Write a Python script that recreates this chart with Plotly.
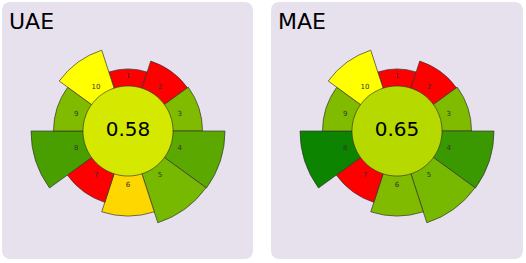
import numpy as np
import plotly.graph_objects as go

# ---- data ----
segments = ["1", "2", "3", "4", "5", "6", "7", "8", "9", "10"]
seg_angles = [0, 36, 72, 108, 144, 180, 216, 252, 288, 324]
seg_radius = [62, 73.5, 74.5, 97, 96.5, 85, 75, 97, 74.5, 85]
inner_radius = 45
label_radius = 54.5

panels = ["UAE", "MAE"]
scores = ["0.58", "0.65"]
uae_colors = ["#ff0000", "#ff0000", "#80bb00", "#5aa800", "#77b800",
              "#ffd700", "#ff0000", "#4a9f00", "#80bb00", "#ffff00"]
mae_colors = ["#ff0000", "#ff0000", "#80bb00", "#3a9900", "#77b800",
              "#80bb00", "#ff0000", "#0c8400", "#80bb00", "#ffff00"]
center_colors = ["#d4e800", "#b6d900"]

W, H = 526, 263
fig = go.Figure()

seg_colors = [uae_colors, mae_colors]
polar_names = ["polar", "polar2"]
centers_px = [(128, 131), (397, 131)]
R_px = 100

circle_theta = np.linspace(0, 360, 241)

for i, pname in enumerate(polar_names):
    fig.add_trace(go.Barpolar(
        r=seg_radius, theta=seg_angles, width=[36] * len(seg_angles),
        marker=dict(color=seg_colors[i], line=dict(color="rgba(50,50,50,0.85)", width=0.8)),
        subplot=pname, hoverinfo="skip", showlegend=False))
    fig.add_trace(go.Scatterpolar(
        r=[inner_radius] * len(circle_theta), theta=circle_theta,
        mode="lines", fill="toself", fillcolor=center_colors[i],
        line=dict(color="rgba(50,50,50,0.85)", width=0.8),
        subplot=pname, hoverinfo="skip", showlegend=False))
    fig.add_trace(go.Scatterpolar(
        r=[label_radius] * len(seg_angles), theta=seg_angles, text=segments,
        mode="text", textfont=dict(family="DejaVu Sans", size=7, color="#333333"),
        subplot=pname, hoverinfo="skip", showlegend=False))
    fig.add_trace(go.Scatterpolar(
        r=[0], theta=[0], text=[scores[i]], mode="text",
        textfont=dict(family="DejaVu Sans", size=20, color="#000000"),
        subplot=pname, hoverinfo="skip", showlegend=False))

polar_common = dict(
    bgcolor="rgba(0,0,0,0)",
    radialaxis=dict(visible=False, range=[0, R_px], showgrid=False),
    angularaxis=dict(visible=False, rotation=90, direction="clockwise", showgrid=False),
    hole=0,
)
layout_polars = {}
for pname, (cx, cy) in zip(polar_names, centers_px):
    d = dict(polar_common)
    d["domain"] = dict(x=[(cx - R_px) / W, (cx + R_px) / W],
                       y=[1 - (cy + R_px) / H, 1 - (cy - R_px) / H])
    layout_polars[pname] = d


def rounded_rect(x0, y0, x1, y1, r):
    # pixel coords (y down) -> paper path
    def P(x, y):
        return f"{x / W:.5f},{1 - y / H:.5f}"
    return (f"M {P(x0 + r, y0)} L {P(x1 - r, y0)} Q {P(x1, y0)} {P(x1, y0 + r)} "
            f"L {P(x1, y1 - r)} Q {P(x1, y1)} {P(x1 - r, y1)} "
            f"L {P(x0 + r, y1)} Q {P(x0, y1)} {P(x0, y1 - r)} "
            f"L {P(x0, y0 + r)} Q {P(x0, y0)} {P(x0 + r, y0)} Z")


panel_boxes = [(2, 2, 253, 259), (271, 2, 523, 259)]
shapes = [dict(type="path", xref="paper", yref="paper", layer="below",
               path=rounded_rect(*b, 9), fillcolor="#e7e1ee", line=dict(width=0))
          for b in panel_boxes]

annotations = []
for name, (x0, y0, x1, y1) in zip(panels, panel_boxes):
    annotations.append(dict(text=name, xref="paper", yref="paper",
                            x=(x0 + 5) / W, y=1 - (y0 + 5) / H,
                            xanchor="left", yanchor="top", showarrow=False,
                            font=dict(family="DejaVu Sans", size=22, color="#000000")))

fig.update_layout(
    width=W, height=H, margin=dict(l=0, r=0, t=0, b=0),
    paper_bgcolor="#ffffff", plot_bgcolor="#ffffff",
    shapes=shapes, annotations=annotations, showlegend=False,
    **layout_polars,
)

fig.write_html("out.html", config={"displayModeBar": False},
               post_script="document.body.style.margin='0';document.body.style.overflow='hidden';")
